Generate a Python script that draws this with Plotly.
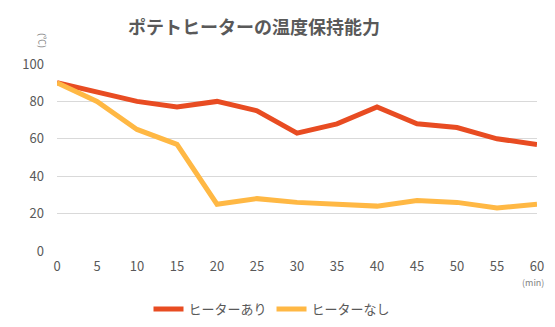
import plotly.graph_objects as go

minutes = [0, 5, 10, 15, 20, 25, 30, 35, 40, 45, 50, 55, 60]
with_heater = [90, 85, 80, 77, 80, 75, 63, 68, 77, 68, 66, 60, 57]
without_heater = [90, 80, 65, 57, 25, 28, 26, 25, 24, 27, 26, 23, 25]
y_ticks = [0, 20, 40, 60, 80, 100]
x_ticks = minutes

FONT = "Noto Sans CJK JP"
GRAY = "#595959"

fig = go.Figure()
fig.add_trace(go.Scatter(x=minutes, y=with_heater, mode="lines", name="ヒーターあり",
                         line=dict(color="#E84C22", width=5)))
fig.add_trace(go.Scatter(x=minutes, y=without_heater, mode="lines", name="ヒーターなし",
                         line=dict(color="#FFB844", width=5)))

fig.update_layout(
    width=555, height=327,
    margin=dict(l=57, r=18, t=64, b=76, autoexpand=False),
    paper_bgcolor="white", plot_bgcolor="white",
    font=dict(family=FONT, color=GRAY, size=12),
    title=dict(text="<b>ポテトヒーターの温度保持能力</b>", xref="container", x=254 / 555,
               xanchor="center", y=1 - 28 / 327, yanchor="middle",
               font=dict(size=18, color=GRAY)),
    xaxis=dict(range=[0, 60], tickvals=x_ticks, ticks="", showgrid=False, zeroline=False,
               showline=False, tickfont=dict(size=13, color=GRAY), fixedrange=True,
               ticklabelstandoff=6, automargin=False),
    yaxis=dict(range=[0, 100], tickvals=y_ticks, ticks="", showgrid=True, gridcolor="#D9D9D9",
               gridwidth=1, zeroline=False, showline=False, tickfont=dict(size=13, color=GRAY),
               ticklabelstandoff=12, automargin=False),
    legend=dict(orientation="h", x=(272 - 57) / 480, xanchor="center", y=-0.23, yanchor="top",
                font=dict(size=13, color=GRAY), itemwidth=30, tracegroupgap=0),
    showlegend=True,
)
fig.add_annotation(text="(min)", xref="paper", yref="paper", x=(533 - 57) / 480, y=-0.17,
                   xanchor="center", yanchor="middle", showarrow=False,
                   font=dict(size=9, color="#7F7F7F"))
fig.add_annotation(text="(℃)", xref="paper", yref="paper", x=(42 - 57) / 480, y=1 + (64 - 40) / 187,
                   xanchor="center", yanchor="middle", showarrow=False, textangle=90,
                   font=dict(size=9, color="#7F7F7F"))

fig.write_html("out.html")
